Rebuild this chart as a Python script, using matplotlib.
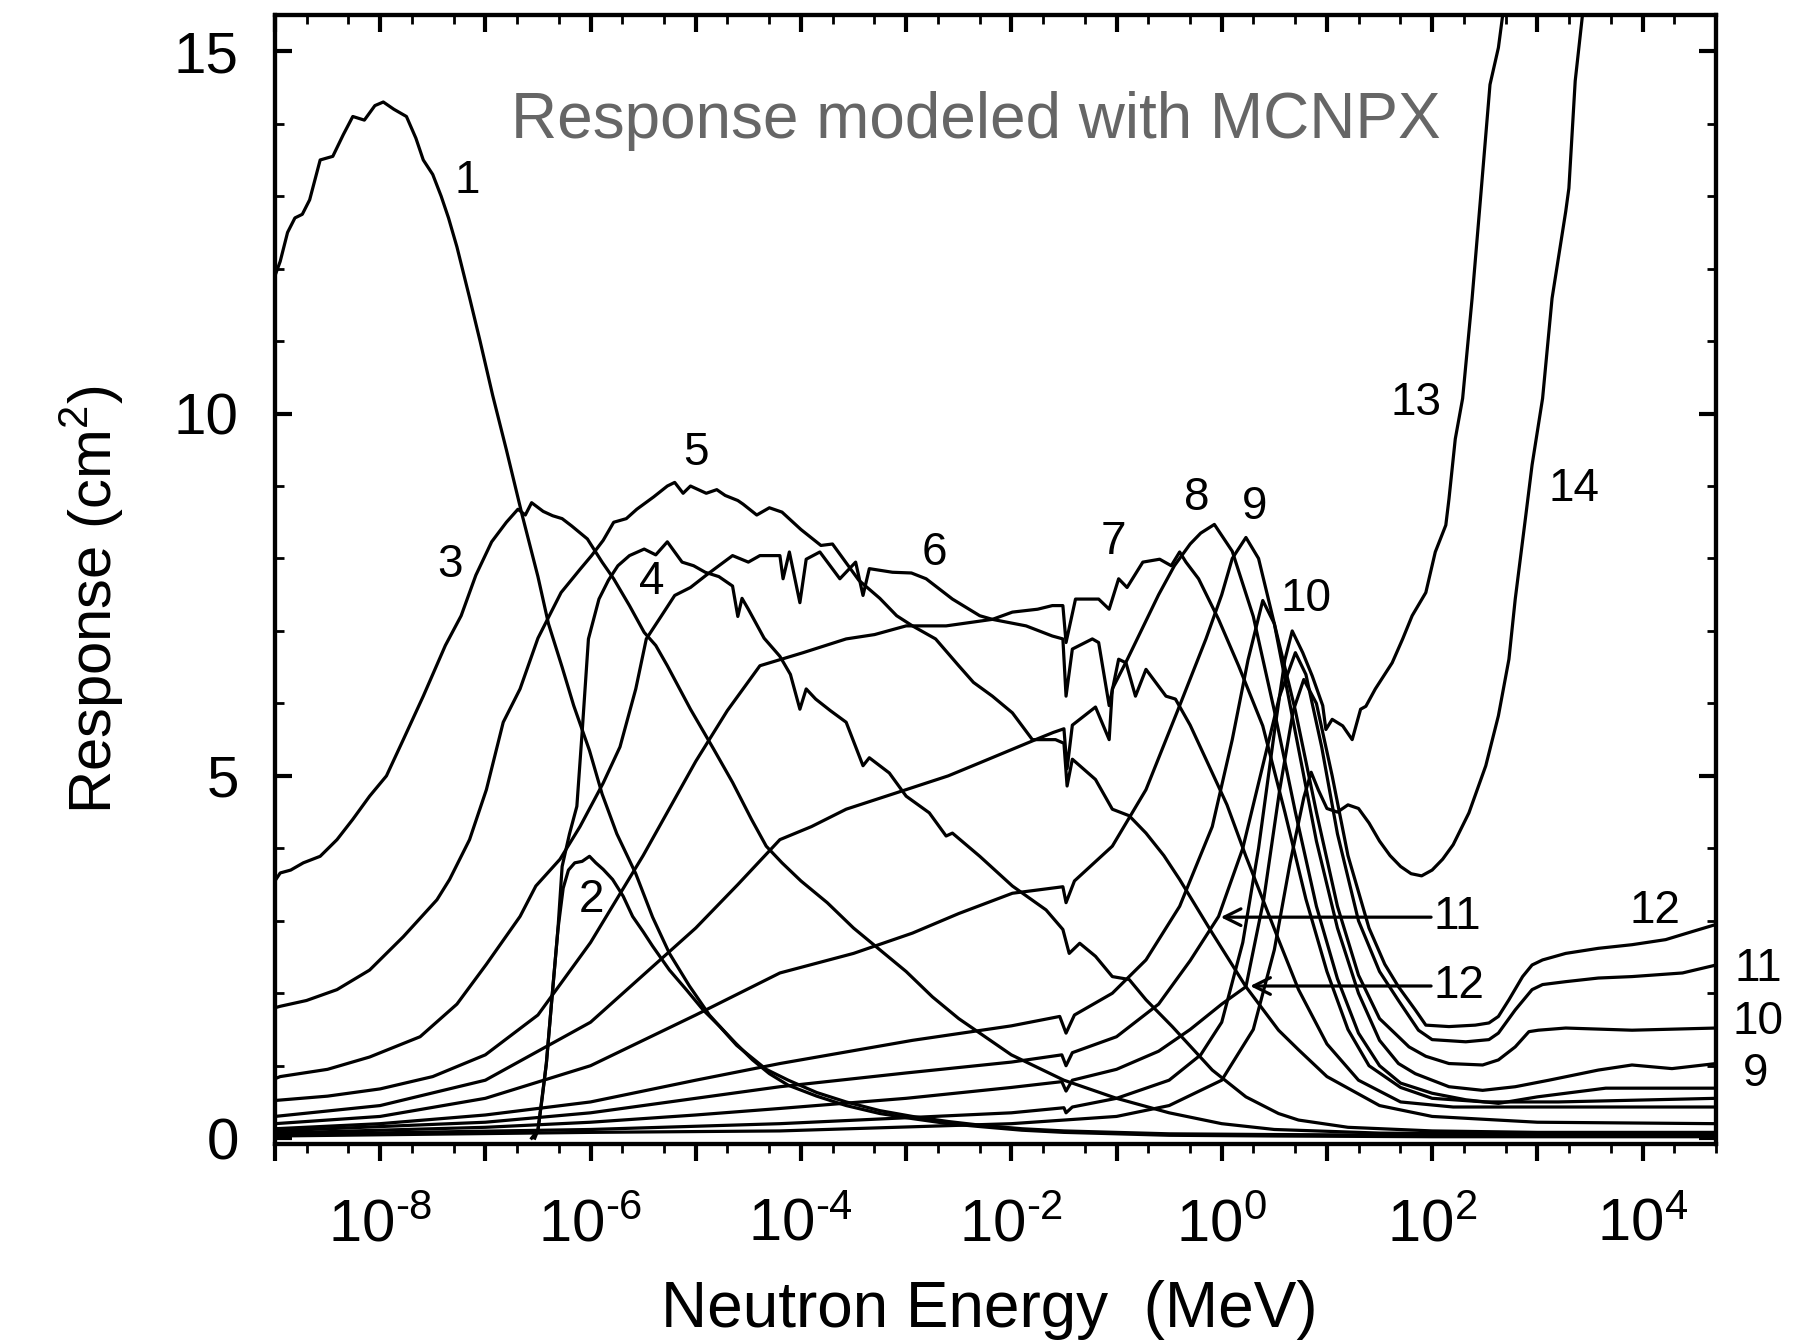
import math
import matplotlib
matplotlib.use("Agg")
import matplotlib.pyplot as plt
import matplotlib.font_manager as fm
from matplotlib.ticker import LogLocator, MultipleLocator, FuncFormatter, NullFormatter

# curves: log10(E / MeV) and response (cm^2)
c1_logE = [-9.0, -8.95, -8.88, -8.81, -8.74, -8.67, -8.57, -8.45, -8.35, -8.26, -8.15, -8.05, -7.97, -7.87,
           -7.75, -7.66, -7.59, -7.5, -7.42, -7.35, -7.27, -7.15, -7.05, -6.93, -6.8, -6.65, -6.5, -6.4, -6.27,
           -6.16, -6.01, -5.89, -5.75, -5.57, -5.41, -5.25, -5.06, -4.87, -4.61, -4.33, -4.12, -3.85, -3.57,
           -3.25, -2.94, -2.6, -2.3, -1.9, -1.5, -1.0, -0.5, 0.5, 2.0, 4.7]
c1_resp = [11.9, 12.1, 12.5, 12.7, 12.75, 12.95, 13.5, 13.55, 13.85, 14.1, 14.05, 14.25, 14.3, 14.2, 14.1,
           13.8, 13.5, 13.3, 13.0, 12.7, 12.3, 11.6, 11.0, 10.25, 9.5, 8.6, 7.75, 7.1, 6.5, 5.97, 5.35, 4.75,
           4.2, 3.65, 3.05, 2.55, 2.1, 1.7, 1.28, 0.95, 0.8, 0.63, 0.5, 0.38, 0.3, 0.23, 0.18, 0.13, 0.1, 0.08,
           0.06, 0.05, 0.04, 0.03]

c2_logE = [-6.56, -6.50, -6.46, -6.42, -6.36, -6.31, -6.26, -6.21, -6.15, -6.08, -6.01, -5.95, -5.88, -5.79,
           -5.69, -5.60, -5.50, -5.41, -5.25, -5.09, -4.93, -4.77, -4.62, -4.46, -4.30, -4.12, -3.85, -3.57,
           -3.25, -2.94, -2.6, -2.3, -1.9, -1.5, -1.0, -0.5, 0.5, 2.0, 4.7]
c2_resp = [0.0, 0.11, 0.55, 1.03, 2.05, 2.88, 3.45, 3.7, 3.8, 3.82, 3.89, 3.8, 3.71, 3.57, 3.34, 3.06, 2.85,
           2.65, 2.32, 2.05, 1.77, 1.54, 1.31, 1.08, 0.89, 0.73, 0.58, 0.45, 0.34, 0.27, 0.2, 0.16, 0.11, 0.08,
           0.06, 0.04, 0.03, 0.02, 0.02]

c3_logE = [-9.0, -8.95, -8.85, -8.73, -8.57, -8.41, -8.26, -8.10, -7.94, -7.78, -7.59, -7.38, -7.23, -7.09,
           -6.94, -6.80, -6.69, -6.62, -6.56, -6.45, -6.36, -6.27, -6.18, -6.03, -5.89, -5.78, -5.63, -5.49,
           -5.38, -5.27, -5.05, -4.83, -4.65, -4.47, -4.33, -4.18, -4.0, -3.75, -3.5, -3.25, -3.0, -2.75, -2.5,
           -2.25, -2.0, -1.5, -1.0, -0.5, 0.0, 0.5, 1.5, 4.7]
c3_resp = [3.55, 3.66, 3.7, 3.80, 3.89, 4.12, 4.40, 4.72, 5.0, 5.5, 6.10, 6.80, 7.21, 7.77, 8.23, 8.50, 8.68,
           8.6, 8.77, 8.65, 8.59, 8.55, 8.45, 8.27, 7.95, 7.72, 7.35, 6.98, 6.8, 6.52, 5.92, 5.37, 4.91, 4.40,
           4.03, 3.8, 3.55, 3.25, 2.9, 2.6, 2.3, 1.95, 1.65, 1.4, 1.15, 0.8, 0.55, 0.35, 0.2, 0.12, 0.07, 0.05]

c4_logE = [-6.53, -6.50, -6.42, -6.36, -6.31, -6.27, -6.2, -6.13, -6.08, -6.02, -5.92, -5.83, -5.74, -5.63,
           -5.49, -5.38, -5.27, -5.13, -5.02, -4.91, -4.78, -4.65, -4.6, -4.56, -4.5, -4.35, -4.2, -4.1, -4.01,
           -3.95, -3.86, -3.72, -3.57, -3.41, -3.35, -3.16, -3.0, -2.78, -2.62, -2.56, -2.30, -1.99, -1.67,
           -1.51, -1.45, -1.35, -1.2, -1.04, -0.88, -0.72, -0.47, -0.09, 0.23, 0.54, 0.73, 1.2, 2.0, 3.0, 4.7]
c4_resp = [0.0, 0.11, 1.03, 2.05, 2.88, 3.75, 4.2, 4.58, 5.6, 6.89, 7.44, 7.7, 7.9, 8.04, 8.13, 8.05, 8.23,
           7.95, 7.9, 7.81, 7.75, 7.62, 7.2, 7.45, 7.3, 6.9, 6.65, 6.4, 5.92, 6.2, 6.06, 5.9, 5.74, 5.14, 5.25,
           5.04, 4.72, 4.49, 4.17, 4.21, 3.89, 3.48, 3.15, 2.88, 2.55, 2.69, 2.51, 2.23, 2.19, 1.91, 1.54, 0.94,
           0.57, 0.34, 0.25, 0.15, 0.1, 0.08, 0.08]

c5_logE = [-9.0, -8.95, -8.7, -8.41, -8.1, -7.78, -7.46, -7.34, -7.15, -6.99, -6.83, -6.67, -6.50, -6.28,
           -6.1, -5.99, -5.88, -5.78, -5.66, -5.56, -5.40, -5.27, -5.2, -5.12, -5.05, -4.9, -4.8, -4.72, -4.6,
           -4.55, -4.42, -4.3, -4.18, -4.0, -3.81, -3.7, -3.6, -3.45, -3.25, -3.09, -2.94, -2.72, -2.50, -2.36,
           -2.18, -1.99, -1.8, -1.58, -1.5, -1.47, -1.42, -1.2, -1.04, -0.88, -0.72, -0.55, -0.40, -0.09, 0.23,
           0.54, 0.73, 1.0, 1.5, 2.0, 3.0, 4.7]
c5_resp = [1.8, 1.82, 1.9, 2.05, 2.32, 2.78, 3.29, 3.57, 4.12, 4.81, 5.74, 6.20, 6.9, 7.53, 7.85, 8.04, 8.25,
           8.50, 8.55, 8.68, 8.85, 9.0, 9.05, 8.9, 9.0, 8.9, 8.95, 8.87, 8.8, 8.75, 8.6, 8.7, 8.64, 8.4, 8.18,
           8.2, 8.0, 7.7, 7.45, 7.21, 7.07, 6.89, 6.52, 6.29, 6.10, 5.87, 5.5, 5.5, 5.45, 4.86, 5.23, 4.95, 4.54,
           4.45, 4.21, 3.9, 3.57, 2.83, 2.09, 1.49, 1.22, 0.85, 0.45, 0.3, 0.22, 0.2]

c6_logE = [-9.0, -8.95, -8.5, -8.1, -7.62, -7.27, -6.99, -6.67, -6.52, -6.29, -6.1, -5.88, -5.72, -5.57,
           -5.47, -5.33, -5.2, -5.05, -4.9, -4.78, -4.65, -4.5, -4.39, -4.20, -4.17, -4.11, -4.01, -3.95, -3.82,
           -3.63, -3.48, -3.41, -3.35, -3.13, -2.95, -2.81, -2.56, -2.30, -2.18, -1.86, -1.61, -1.51, -1.48,
           -1.42, -1.23, -1.17, -1.07, -0.98, -0.91, -0.82, -0.72, -0.53, -0.44, -0.3, -0.15, 0.05, 0.23, 0.54,
           0.73, 1.0, 1.3, 1.7, 2.2, 3.0, 4.7]
c6_resp = [0.82, 0.85, 0.95, 1.12, 1.4, 1.85, 2.4, 3.06, 3.48, 3.85, 4.3, 4.9, 5.4, 6.2, 6.89, 7.2, 7.49, 7.6,
           7.77, 7.9, 8.04, 7.95, 8.04, 8.04, 7.72, 8.09, 7.39, 7.99, 8.09, 7.72, 7.95, 7.49, 7.86, 7.81, 7.8,
           7.72, 7.44, 7.21, 7.16, 7.07, 6.93, 6.89, 6.10, 6.75, 6.89, 6.84, 5.97, 6.61, 6.56, 6.10, 6.47, 6.10,
           6.06, 5.7, 5.23, 4.6, 3.89, 2.74, 2.05, 1.3, 0.8, 0.5, 0.43, 0.43, 0.43]

c7_logE = [-9.0, -8.5, -8.0, -7.5, -7.0, -6.5, -6.0, -5.5, -5.0, -4.7, -4.39, -3.98, -3.57, -3.3, -3.0, -2.62,
           -2.18, -1.99, -1.75, -1.61, -1.51, -1.48, -1.39, -1.17, -1.07, -0.98, -0.9, -0.75, -0.59, -0.48,
           -0.40, -0.34, -0.22, -0.03, 0.16, 0.39, 0.6, 0.8, 1.0, 1.2, 1.4, 1.7, 2.0, 2.5, 3.2, 4.7]
c7_resp = [0.52, 0.58, 0.68, 0.85, 1.15, 1.7, 2.7, 3.9, 5.2, 5.9, 6.52, 6.70, 6.89, 6.95, 7.07, 7.07, 7.16,
           7.26, 7.3, 7.35, 7.35, 6.84, 7.44, 7.44, 7.3, 7.72, 7.6, 7.95, 7.99, 7.9, 8.09, 7.95, 7.72, 7.16,
           6.52, 5.69, 4.5, 3.3, 2.3, 1.5, 1.0, 0.7, 0.55, 0.5, 0.5, 0.55]

c8_logE = [-9.0, -8.0, -7.0, -6.0, -5.0, -4.6, -4.2, -3.9, -3.57, -3.0, -2.6, -2.3, -1.77, -1.6, -1.5, -1.47,
           -1.42, -1.2, -1.07, -1.04, -0.9, -0.75, -0.6, -0.45, -0.3, -0.2, -0.07, 0.1, 0.3, 0.5, 0.7, 0.9,
           1.1, 1.3, 1.5, 1.7, 2.0, 2.32, 2.63, 3.0, 3.65, 4.7]
c8_resp = [0.3, 0.45, 0.8, 1.6, 2.9, 3.5, 4.12, 4.3, 4.54, 4.81, 5.0, 5.18, 5.5, 5.6, 5.65, 5.1, 5.7, 5.95,
           5.5, 6.2, 6.6, 7.05, 7.5, 7.9, 8.2, 8.35, 8.47, 8.1, 7.2, 5.9, 4.5, 3.2, 2.2, 1.45, 1.0, 0.76, 0.62,
           0.53, 0.48, 0.57, 0.69, 0.69]

c9_logE = [-9.0, -8.0, -7.0, -6.0, -5.0, -4.2, -3.5, -2.94, -2.5, -1.99, -1.51, -1.48, -1.4, -1.04, -0.72,
           -0.40, -0.15, 0.0, 0.1, 0.23, 0.35, 0.5, 0.7, 0.9, 1.1, 1.3, 1.5, 1.68, 1.84, 2.16, 2.48, 2.79, 3.11,
           3.58, 3.9, 4.28, 4.7]
c9_resp = [0.2, 0.3, 0.55, 1.0, 1.7, 2.28, 2.55, 2.83, 3.1, 3.38, 3.47, 3.25, 3.55, 4.03, 4.81, 5.97, 6.89,
           7.5, 8.0, 8.29, 8.0, 7.1, 5.6, 4.1, 2.9, 2.0, 1.35, 1.03, 0.89, 0.71, 0.66, 0.71, 0.80, 0.94, 1.01,
           0.96, 1.03]

c10_logE = [-9.0, -8.0, -7.0, -6.0, -5.0, -4.2, -2.94, -2.0, -1.54, -1.48, -1.4, -1.04, -0.72, -0.40, -0.09,
            0.1, 0.25, 0.39, 0.5, 0.7, 0.9, 1.1, 1.3, 1.5, 1.68, 1.78, 1.94, 2.16, 2.48, 2.63, 2.79, 2.92, 3.01,
            3.27, 3.9, 4.7]
c10_resp = [0.13, 0.2, 0.32, 0.5, 0.8, 1.03, 1.35, 1.55, 1.68, 1.45, 1.7, 2.0, 2.46, 3.2, 4.3, 5.5, 6.6, 7.42,
            7.1, 5.9, 4.5, 3.2, 2.25, 1.65, 1.4, 1.26, 1.13, 1.03, 1.01, 1.08, 1.26, 1.47, 1.49, 1.52, 1.49,
            1.52]

c11_logE = [-9.0, -7.0, -6.0, -5.0, -4.2, -3.0, -2.0, -1.52, -1.48, -1.42, -1.0, -0.6, -0.3, -0.03, 0.2, 0.4,
            0.55, 0.70, 0.8, 0.95, 1.1, 1.3, 1.5, 1.68, 1.87, 2.0, 2.32, 2.54, 2.63, 2.79, 2.95, 3.05, 3.27,
            3.58, 3.9, 4.38, 4.7]
c11_resp = [0.1, 0.22, 0.35, 0.55, 0.71, 0.9, 1.05, 1.15, 1.0, 1.18, 1.4, 1.85, 2.45, 3.06, 4.0, 5.2, 6.1,
            6.7, 6.4, 5.4, 4.2, 3.0, 2.3, 1.9, 1.49, 1.36, 1.33, 1.36, 1.45, 1.77, 2.05, 2.12, 2.16, 2.21, 2.23,
            2.28, 2.39]

c12_logE = [-9.0, -7.0, -6.0, -5.0, -4.2, -3.0, -2.0, -1.52, -1.48, -1.42, -1.0, -0.6, -0.3, 0.0, 0.23, 0.4,
            0.55, 0.68, 0.78, 0.9, 1.05, 1.2, 1.4, 1.55, 1.68, 1.84, 1.94, 2.16, 2.41, 2.54, 2.63, 2.73, 2.86,
            2.95, 3.05, 3.27, 3.58, 3.9, 4.22, 4.47, 4.7]
c12_resp = [0.07, 0.15, 0.22, 0.32, 0.41, 0.55, 0.7, 0.78, 0.65, 0.8, 0.95, 1.2, 1.5, 1.85, 2.09, 3.3, 4.8,
            5.9, 6.33, 6.0, 5.0, 3.9, 2.9, 2.4, 2.09, 1.77, 1.56, 1.54, 1.56, 1.59, 1.68, 1.91, 2.23, 2.39, 2.46,
            2.55, 2.62, 2.67, 2.74, 2.85, 2.95]

c13_logE = [-9.0, -6.0, -4.2, -2.0, -1.5, -1.48, -1.42, -1.0, -0.5, -0.2, 0.0, 0.2, 0.35, 0.5, 0.6, 0.67,
            0.77, 0.86, 0.96, 0.99, 1.05, 1.15, 1.24, 1.32, 1.37, 1.46, 1.62, 1.72, 1.81, 1.94, 2.03, 2.13, 2.16,
            2.22, 2.29, 2.32, 2.38, 2.46, 2.55, 2.63, 2.68]
c13_resp = [0.05, 0.12, 0.2, 0.35, 0.42, 0.35, 0.43, 0.55, 0.8, 1.15, 1.6, 2.7, 4.0, 5.6, 6.6, 7.0, 6.7, 6.38,
            5.97, 5.64, 5.78, 5.69, 5.5, 5.92, 5.96, 6.2, 6.56, 6.89, 7.21, 7.53, 8.09, 8.46, 8.82, 9.65, 10.21,
            10.67, 11.59, 12.97, 14.54, 15.05, 15.6]

c14_logE = [-9.0, -6.0, -4.2, -2.0, -1.0, -0.5, 0.0, 0.3, 0.5, 0.65, 0.78, 0.85, 0.92, 1.0, 1.1, 1.2, 1.3,
            1.4, 1.5, 1.6, 1.7, 1.8, 1.9, 2.0, 2.1, 2.2, 2.35, 2.51, 2.63, 2.73, 2.79, 2.89, 2.95, 3.05, 3.14,
            3.27, 3.30, 3.36, 3.43, 3.46]
c14_resp = [0.03, 0.08, 0.1, 0.2, 0.3, 0.45, 0.8, 1.5, 2.6, 3.8, 4.7, 5.05, 4.8, 4.55, 4.5, 4.6, 4.55, 4.35,
            4.1, 3.9, 3.75, 3.65, 3.62, 3.7, 3.85, 4.05, 4.49, 5.14, 5.83, 6.61, 7.44, 8.59, 9.29, 10.21, 11.59,
            12.79, 13.11, 14.59, 15.51, 15.7]

curves = [(c1_logE, c1_resp), (c2_logE, c2_resp), (c3_logE, c3_resp), (c4_logE, c4_resp),
          (c5_logE, c5_resp), (c6_logE, c6_resp), (c7_logE, c7_resp), (c8_logE, c8_resp),
          (c9_logE, c9_resp), (c10_logE, c10_resp), (c11_logE, c11_resp), (c12_logE, c12_resp),
          (c13_logE, c13_resp), (c14_logE, c14_resp)]

# curve numbers written on the plot
label_text = ["1", "2", "3", "4", "5", "6", "7", "8", "9", "10", "13", "14", "12", "11", "10", "9"]
label_logE = [-7.17, -5.99, -7.34, -5.42, -5.0, -2.73, -1.03, -0.24, 0.31, 0.8, 1.85, 3.35, 4.12, 5.1, 5.1, 5.07]
label_resp = [13.21, 3.29, 7.91, 7.68, 9.46, 8.07, 8.23, 8.84, 8.71, 7.44, 10.15, 8.96, 3.13, 2.33, 1.61, 0.89]

# arrowed labels: text, arrow tip (logE, resp), tail logE
arrow_text = ["11", "12"]
arrow_tip_logE = [-0.01, 0.27]
arrow_tip_resp = [3.05, 2.1]
arrow_tail_logE = [1.99, 1.99]

plt.rcParams['font.family'] = ['Liberation Sans', 'DejaVu Sans']
plt.rcParams['mathtext.fontset'] = 'custom'
plt.rcParams['mathtext.rm'] = 'Liberation Sans'

names = {f.name for f in fm.fontManager.ttflist}
if 'Liberation Sans Narrow' in names:
    tick_family, xtick_size = 'Liberation Sans Narrow', 46
else:
    tick_family, xtick_size = 'Liberation Sans', 43

fig = plt.figure(figsize=(18.1, 13.43), dpi=100)
ax = fig.add_axes([0.1519, 0.1482, 0.7962, 0.8406])

for lx, r in curves:
    ax.plot([10.0 ** v for v in lx], r, color='black', lw=2.3, solid_joinstyle='round')

ax.set_xscale('log')
ax.set_xlim(1e-9, 5e4)
ax.set_ylim(-0.08, 15.5)


def decade_label(x, pos):
    e = int(round(math.log10(x)))
    if e % 2:
        return ''
    if e < 0:
        # short hyphen in the exponent, as on the original axis
        return '$\\mathregular{10^{\u2010%d}}$' % -e
    return r'$\mathregular{10^{%d}}$' % e


ax.xaxis.set_major_locator(LogLocator(base=10, numticks=30))
ax.xaxis.set_minor_locator(LogLocator(base=10, subs=(2, 5), numticks=30))
ax.xaxis.set_major_formatter(FuncFormatter(decade_label))
ax.xaxis.set_minor_formatter(NullFormatter())
ax.yaxis.set_major_locator(MultipleLocator(5))
ax.yaxis.set_minor_locator(MultipleLocator(1))

ax.tick_params(axis='x', which='both', direction='out', top=False, pad=27,
               labelsize=xtick_size, labelfontfamily=tick_family)
ax.tick_params(axis='y', which='both', direction='in', left=True, right=True, pad=26, labelsize=42)
ax.tick_params(which='major', length=12, width=3)
ax.tick_params(which='minor', length=6.5, width=2)
for s in ax.spines.values():
    s.set_linewidth(3)

axt = ax.twiny()
axt.set_xscale('log')
axt.set_xlim(ax.get_xlim())
axt.xaxis.set_major_locator(LogLocator(base=10, numticks=30))
axt.xaxis.set_minor_locator(LogLocator(base=10, subs=(2, 5), numticks=30))
axt.xaxis.set_major_formatter(NullFormatter())
axt.xaxis.set_minor_formatter(NullFormatter())
axt.tick_params(axis='x', which='both', direction='in', top=True, bottom=False, labeltop=False)
axt.tick_params(which='major', length=12, width=3)
axt.tick_params(which='minor', length=6.5, width=2)
for s in axt.spines.values():
    s.set_linewidth(3)

ax.set_xlabel('Neutron Energy  (MeV)', fontsize=46)
ax.xaxis.set_label_coords(0.4955, -0.147)
ax.xaxis.label.set_va('center')
ax.set_ylabel(r'Response (cm$^{\mathregular{2}}$)', fontsize=43, family=tick_family)
ax.yaxis.set_label_coords(-0.127, 0.482)
ax.yaxis.label.set_va('center')

ax.text(0.486, 0.906, 'Response modeled with MCNPX', transform=ax.transAxes, ha='center', va='center',
        fontsize=46, color='#666666')

for t, lx, r in zip(label_text, label_logE, label_resp):
    ax.text(10.0 ** lx, r, t, ha='center', va='center', fontsize=33, clip_on=False)

for t, tip_l, tip_r, tail_l in zip(arrow_text, arrow_tip_logE, arrow_tip_resp, arrow_tail_logE):
    ax.annotate('', xy=(10.0 ** tip_l, tip_r), xytext=(10.0 ** tail_l, tip_r),
                arrowprops=dict(arrowstyle='->', lw=2.3, color='black', mutation_scale=30,
                                shrinkA=0, shrinkB=0))
    ax.text(10.0 ** (tail_l + 0.02), tip_r, t, ha='left', va='center', fontsize=33)

fig.savefig('out.png', dpi=100)
